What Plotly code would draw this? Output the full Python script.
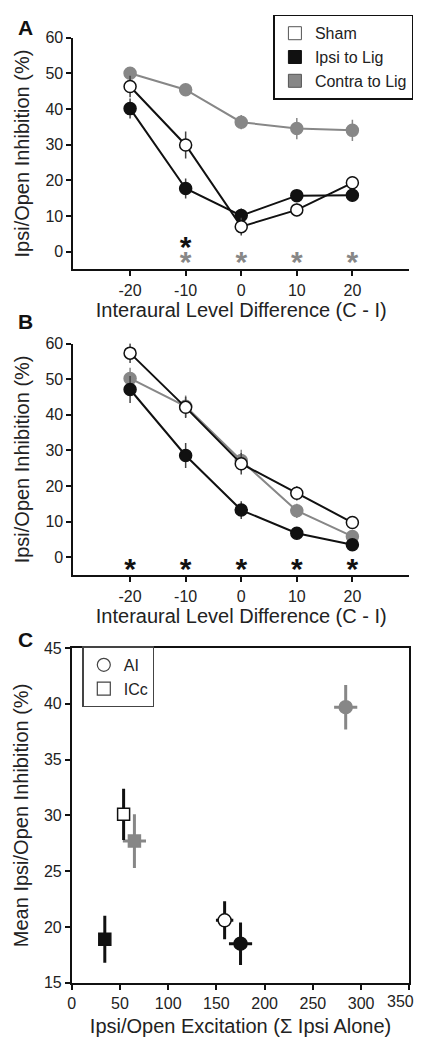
import plotly.graph_objects as go

# ---------------- data ----------------
ild = [-20, -10, 0, 10, 20]
ild_ticks = [-20, -10, 0, 10, 20]
ild_ticktext = ["-20", "-10", "0", "10", "20"]

# Panel A
a_sham = [46.3, 29.9, 7.0, 11.7, 19.3]
a_sham_err = [3.0, 3.8, 2.5, 1.8, 1.8]
a_ipsi = [40.1, 17.7, 10.1, 15.7, 15.8]
a_ipsi_err = [2.8, 2.8, 2.0, 1.5, 1.8]
a_contra = [50.0, 45.4, 36.3, 34.5, 34.0]
a_contra_err = [1.5, 1.5, 2.0, 3.0, 3.0]
a_sig_black_x = [-10]
a_sig_gray_x = [-10, 0, 10, 20]

# Panel B
b_sham = [57.3, 42.1, 26.3, 18.0, 9.8]
b_sham_err = [2.8, 3.0, 3.0, 2.0, 1.5]
b_ipsi = [47.1, 28.6, 13.3, 6.8, 3.6]
b_ipsi_err = [3.8, 3.5, 2.5, 1.2, 1.0]
b_contra = [50.2, 42.4, 27.2, 13.1, 5.9]
b_contra_err = [3.0, 3.0, 3.0, 2.0, 1.5]
b_sig_x = [-20, -10, 0, 10, 20]

# Panel C  (order: Sham, Ipsi to Lig, Contra to Lig)
ai_x = [158.5, 175.0, 284.0]
ai_y = [20.6, 18.5, 39.7]
ai_xerr = [9, 12, 12]
ai_yerr = [1.7, 1.9, 2.0]
icc_x = [53.8, 34.3, 65.0]
icc_y = [30.1, 18.9, 27.7]
icc_xerr = [3, 4, 12]
icc_yerr = [2.3, 2.1, 2.4]
c_xticks = [0, 50, 100, 150, 200, 250, 300, 350]
c_xticktext = ["0", "50", "100", "150", "200", "250", "300", ""]
c_last_tick = 350
c_yticks = [15, 20, 25, 30, 35, 40, 45]

# ---------------- style ----------------
FONT = "Liberation Sans, Arial, Helvetica, sans-serif"
BLACK = "#111111"
GRAY = "#878787"
EDGE_GRAY = "#555555"
TXT = "#222222"
OFF = 8                    # default page body margin
W, H = 424 - 2 * OFF, 1047 - 2 * OFF


def px(x):
    return (x - OFF) / W


def py(y):
    return 1 - (y - OFF) / H


fig = go.Figure()


def line_series(x, y, err, fill, line_col, edge, xa, ya, err_col):
    fig.add_trace(go.Scatter(
        x=x, y=y, mode="lines+markers", xaxis=xa, yaxis=ya, showlegend=False,
        line=dict(color=line_col, width=2),
        marker=dict(size=12, color=fill, line=dict(color=edge, width=1.5)),
        error_y=dict(type="data", array=err, visible=True, thickness=1.5,
                     width=0, color=err_col),
        cliponaxis=False,
    ))


# Panel A
line_series(ild, a_contra, a_contra_err, GRAY, GRAY, GRAY, "x", "y", GRAY)
line_series(ild, a_ipsi, a_ipsi_err, BLACK, BLACK, BLACK, "x", "y", "#444444")
line_series(ild, a_sham, a_sham_err, "white", BLACK, BLACK, "x", "y", "#444444")

# Panel B
line_series(ild, b_contra, b_contra_err, GRAY, GRAY, GRAY, "x2", "y2", GRAY)
line_series(ild, b_ipsi, b_ipsi_err, BLACK, BLACK, BLACK, "x2", "y2", "#444444")
line_series(ild, b_sham, b_sham_err, "white", BLACK, BLACK, "x2", "y2", "#444444")


def stars(xs, level, color, xa, ya):
    fig.add_trace(go.Scatter(
        x=xs, y=[level] * len(xs), mode="text", text=["<b>*</b>"] * len(xs),
        textposition="middle center", xaxis=xa, yaxis=ya, showlegend=False,
        textfont=dict(family=FONT, size=30, color=color), cliponaxis=False,
    ))


stars(a_sig_black_x, 0.5, BLACK, "x", "y")
stars(a_sig_gray_x, -3.7, GRAY, "x", "y")
stars(b_sig_x, -3.9, BLACK, "x2", "y2")

# Legend A entries
for name, fill, edge in [("Sham", "white", EDGE_GRAY),
                         ("Ipsi to Lig", BLACK, BLACK),
                         ("Contra to Lig", GRAY, EDGE_GRAY)]:
    fig.add_trace(go.Scatter(
        x=[None], y=[None], mode="markers", name=name, xaxis="x", yaxis="y",
        marker=dict(symbol="square", size=13, color=fill, line=dict(color=edge, width=1)),
        legend="legend",
    ))

# Panel C points
c_fill = ["white", BLACK, GRAY]
c_edge = [BLACK, BLACK, GRAY]
c_err = [BLACK, BLACK, GRAY]
order = [2, 1, 0]
for i in order:
    fig.add_trace(go.Scatter(
        x=[icc_x[i]], y=[icc_y[i]], mode="markers", xaxis="x3", yaxis="y3",
        showlegend=False,
        marker=dict(symbol="square", size=12, color=c_fill[i],
                    line=dict(color=c_edge[i], width=1.5)),
        error_x=dict(type="data", array=[icc_xerr[i]], thickness=3, width=0, color=c_err[i]),
        error_y=dict(type="data", array=[icc_yerr[i]], thickness=3, width=0, color=c_err[i]),
    ))
for i in order:
    fig.add_trace(go.Scatter(
        x=[ai_x[i]], y=[ai_y[i]], mode="markers", xaxis="x3", yaxis="y3",
        showlegend=False,
        marker=dict(symbol="circle", size=13, color=c_fill[i],
                    line=dict(color=c_edge[i], width=1.5)),
        error_x=dict(type="data", array=[ai_xerr[i]], thickness=3, width=0, color=c_err[i]),
        error_y=dict(type="data", array=[ai_yerr[i]], thickness=3, width=0, color=c_err[i]),
    ))

# Legend C entries
for name, sym in [("AI", "circle-open"), ("ICc", "square-open")]:
    fig.add_trace(go.Scatter(
        x=[None], y=[None], mode="markers", name=name, xaxis="x3", yaxis="y3",
        marker=dict(symbol=sym, size=13, color="#444444", line=dict(width=1.2)),
        legend="legend2",
    ))


axis_common = dict(
    showline=True, linecolor=BLACK, linewidth=2, ticks="outside", ticklen=5,
    tickwidth=1.5, tickcolor=BLACK, showgrid=False, zeroline=False,
    tickfont=dict(family=FONT, size=16, color=TXT),
)

ild_x = dict(axis_common, range=[-30.2, 30.2], tickvals=ild_ticks, ticktext=ild_ticktext,
             title=dict(text="Interaural Level Difference (C - I)",
                        font=dict(family=FONT, size=20, color=TXT), standoff=4))
ild_y = dict(axis_common, range=[-5, 60], tickvals=[0, 10, 20, 30, 40, 50, 60],
             title=dict(text="Ipsi/Open Inhibition (%)",
                        font=dict(family=FONT, size=20, color=TXT), standoff=10))

fig.update_layout(
    width=W, height=H,
    margin=dict(l=0, r=0, t=0, b=0),
    paper_bgcolor="white", plot_bgcolor="white",
    font=dict(family=FONT, color=TXT),
    xaxis=dict(ild_x, domain=[px(70), px(409)], anchor="y"),
    yaxis=dict(ild_y, domain=[py(265.7), py(30)], anchor="x"),
    xaxis2=dict(ild_x, domain=[px(70), px(409)], anchor="y2"),
    yaxis2=dict(ild_y, domain=[py(576.7), py(341)], anchor="x2"),
    xaxis3=dict(axis_common, domain=[px(68.3), px(409.3)], anchor="y3",
                range=[0, 350], tickvals=c_xticks, ticktext=c_xticktext,
                mirror=True, linewidth=1.5,
                title=dict(text="Ipsi/Open Excitation (\u03a3 Ipsi Alone)",
                           font=dict(family=FONT, size=20, color=TXT), standoff=8)),
    yaxis3=dict(axis_common, domain=[py(991), py(650.7)], anchor="x3",
                range=[15, 45], tickvals=c_yticks, mirror=True, linewidth=1.5,
                title=dict(text="Mean Ipsi/Open Inhibition (%)",
                           font=dict(family=FONT, size=20, color=TXT), standoff=10)),
    legend=dict(x=px(272), xanchor="left", y=py(50), yanchor="middle",
                bordercolor=BLACK, borderwidth=1.5, bgcolor="white",
                font=dict(family=FONT, size=16, color=TXT),
                itemwidth=30, tracegroupgap=0),
    legend2=dict(x=px(79), xanchor="left", y=py(680), yanchor="middle",
                 bordercolor="#444444", borderwidth=1.5, bgcolor="white",
                 font=dict(family=FONT, size=16, color=TXT),
                 itemwidth=30, tracegroupgap=0),
    showlegend=True,
)

# last x tick label of panel C, kept inside the page edge
fig.add_annotation(text=str(c_last_tick), xref="x3", yref="y3", x=c_last_tick, y=15,
                   xanchor="right", yanchor="top", xshift=6, yshift=-9,
                   showarrow=False, borderpad=0,
                   font=dict(family=FONT, size=16, color=TXT))

for label, ypx in [("A", 19.5), ("B", 318.5), ("C", 641.5)]:
    fig.add_annotation(text="<b>%s</b>" % label, xref="paper", yref="paper",
                       x=px(12), y=py(ypx), xanchor="left", yanchor="middle",
                       showarrow=False, font=dict(family=FONT, size=21, color=BLACK))

fig.write_html("out.html")
